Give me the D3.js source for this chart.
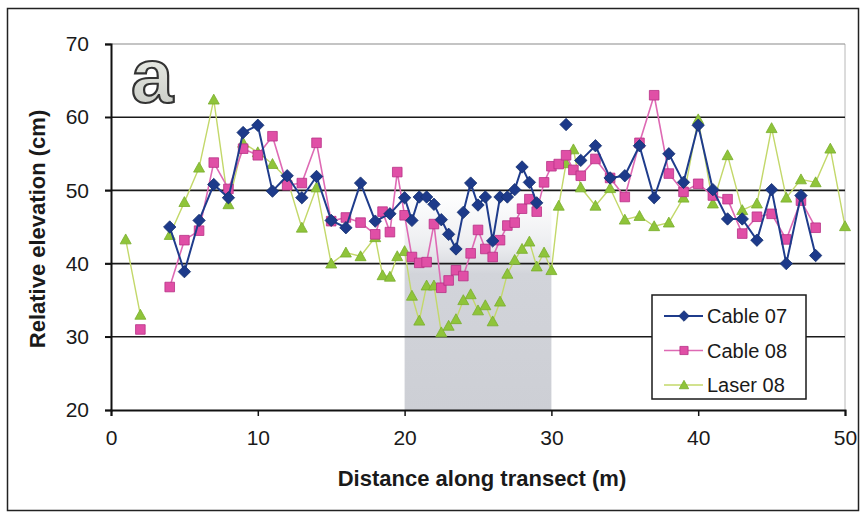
<!DOCTYPE html>
<html>
<head>
<meta charset="utf-8">
<script src="https://cdn.jsdelivr.net/npm/d3@7"></script>
<style>
  html, body { margin: 0; padding: 0; background: #ffffff; }
  svg { display: block; }
  text { font-family: "Liberation Sans", Arial, sans-serif; }
</style>
</head>
<body>
<svg id="chart" width="865" height="514"></svg>
<script>
// Distances (m) and elevations (cm); null marks a gap in a line.
const cable07X = [4,5,6,7,8,9,10,11,12,13,14,15,16,17,18,19,
  20,20.5,21,21.5,22,22.5,23,23.5,24,24.5,25,25.5,26,26.5,27,27.5,28,28.5,29,29.5,
  31,31.5,32,33,34,35,36,37,38,39,40,41,42,43,44,45,46,47,48];
const cable07Y = [45.0,38.9,45.9,50.8,49.0,57.9,58.9,49.9,52.0,49.0,51.9,45.9,44.9,51.0,45.8,46.8,
  49.0,45.9,49.1,49.1,48.1,46.0,44.0,42.0,47.0,51.0,48.0,49.1,43.1,49.1,49.1,50.1,53.2,51.1,48.3,null,
  59.0,null,54.1,56.1,51.7,52.0,56.1,49.0,55.0,51.1,58.9,50.1,46.1,46.1,43.2,50.1,40.0,49.3,41.1];

const cable08X = [2,3,4,5,6,7,8,9,10,11,12,13,14,15,16,17,
  18,18.5,19,19.5,20,20.5,21,21.5,22,22.5,23,23.5,24,24.5,25,25.5,26,26.5,27,27.5,28,28.5,29,29.5,30,30.5,31,31.5,32,
  33,34,35,36,37,38,39,40,41,42,43,44,45,46,47,48];
const cable08Y = [31.0,null,36.8,43.2,44.5,53.8,50.2,55.7,54.8,57.4,50.7,51.0,56.5,45.8,46.3,45.6,
  44.0,47.1,44.3,52.5,46.6,40.9,40.1,40.2,45.4,36.7,37.7,39.1,38.3,41.4,44.6,42.0,40.9,43.2,45.2,45.6,47.5,48.8,47.1,51.1,53.3,53.6,54.8,52.8,52.0,
  54.3,51.7,49.1,56.5,63.0,52.3,49.8,50.9,49.3,48.8,44.1,46.4,46.8,43.3,48.6,44.9];

const laser08X = [1,2,3,4,5,6,7,8,9,10,11,12,13,14,15,16,17,
  18,18.5,19,19.5,20,20.5,21,21.5,22,22.5,23,23.5,24,24.5,25,25.5,26,26.5,27,27.5,28,28.5,29,29.5,30,30.5,31,31.5,32,
  33,34,35,36,37,38,39,40,41,42,43,44,45,46,47,48,49,50];
const laser08Y = [43.3,33.0,null,43.9,48.4,53.1,62.4,48.1,56.5,55.2,53.6,51.6,44.9,50.4,40.0,41.5,41.0,
  43.6,38.4,38.2,41.0,41.7,35.6,32.2,37.0,37.0,30.6,31.5,32.4,35.0,35.8,33.6,34.3,32.1,34.8,38.6,40.5,42.0,43.0,39.6,41.5,39.1,47.9,53.7,55.6,50.4,
  47.9,50.3,46.0,46.5,45.1,45.6,49.0,59.7,48.2,54.8,47.3,48.2,58.5,49.0,51.5,51.1,55.7,45.1];

const seriesNames = ["Cable 07", "Cable 08", "Laser 08"];
const xTicks = [0, 10, 20, 30, 40, 50];
const yTicks = [20, 30, 40, 50, 60, 70];
const shadedSpan = [20, 30];   // highlighted stretch of the transect (m)
const shadedTop = 50;          // upper bound of the highlight (cm)

const svg = d3.select("#chart");
const W = 865, H = 514;
const ink = "#1a1a1a";

// outer frame
svg.append("rect").attr("x", 0).attr("y", 0).attr("width", W).attr("height", H).attr("fill", "#ffffff");
svg.append("rect").attr("x", 7.5).attr("y", 8.5).attr("width", 851).attr("height", 502)
  .attr("fill", "none").attr("stroke", "#222").attr("stroke-width", 1.5);

const x = d3.scaleLinear().domain([0, 50]).range([111, 845]);
const y = d3.scaleLinear().domain([20, 70]).range([410, 44]);

// shaded stretch
const defs = svg.append("defs");
const grad = defs.append("linearGradient").attr("id", "shade").attr("x1", 0).attr("y1", 0).attr("x2", 0).attr("y2", 1);
grad.append("stop").attr("offset", "0%").attr("stop-color", "#e4e6ea").attr("stop-opacity", 0.0);
grad.append("stop").attr("offset", "25%").attr("stop-color", "#dcdee3").attr("stop-opacity", 0.55);
grad.append("stop").attr("offset", "38%").attr("stop-color", "#d2d4da");
grad.append("stop").attr("offset", "100%").attr("stop-color", "#cdcfd5");
svg.append("rect")
  .attr("x", x(shadedSpan[0])).attr("y", y(shadedTop))
  .attr("width", x(shadedSpan[1]) - x(shadedSpan[0]))
  .attr("height", y(20) - y(shadedTop))
  .attr("fill", "url(#shade)");

// right edge of plot area
svg.append("line").attr("x1", x(50)).attr("x2", x(50)).attr("y1", y(70)).attr("y2", y(20))
  .attr("stroke", "#b8b8b8").attr("stroke-width", 1);

// horizontal gridlines
svg.append("g").selectAll("line").data(yTicks.filter(v => v > 20)).join("line")
  .attr("x1", x(0) - 6).attr("x2", x(50))
  .attr("y1", d => y(d)).attr("y2", d => y(d))
  .attr("stroke", d => d === 70 ? "#8a8a8a" : "#1a1a1a")
  .attr("stroke-width", d => d === 70 ? 1.2 : 1.6);

// axes
const yAxis = svg.append("g").attr("transform", `translate(${x(0)},0)`)
  .call(d3.axisLeft(y).tickValues(yTicks).tickSize(6).tickPadding(14));
const xAxis = svg.append("g").attr("transform", `translate(0,${y(20)})`)
  .call(d3.axisBottom(x).tickValues(xTicks).tickSize(6).tickPadding(14));
[yAxis, xAxis].forEach(g => {
  g.select(".domain").attr("stroke", "#111").attr("stroke-width", 2);
  g.selectAll(".tick line").attr("stroke", "#111").attr("stroke-width", 1.5);
  g.selectAll(".tick text").attr("font-size", 21).attr("fill", ink)
    .style("font-family", "'Liberation Sans', Arial, sans-serif");
});
yAxis.selectAll(".tick text").attr("dx", "-2");

// axis titles
svg.append("text").attr("x", 482).attr("y", 486).attr("text-anchor", "middle")
  .attr("font-size", 22).attr("font-weight", "bold").attr("fill", ink).text("Distance along transect (m)");
svg.append("text").attr("transform", "translate(45,229) rotate(-90)").attr("text-anchor", "middle")
  .attr("font-size", 22).attr("font-weight", "bold").attr("fill", ink).text("Relative elevation (cm)");

// panel letter
const lg = defs.append("linearGradient").attr("id", "letter").attr("x1", 0).attr("y1", 0).attr("x2", 0).attr("y2", 1);
lg.append("stop").attr("offset", "0%").attr("stop-color", "#f4f6f0");
lg.append("stop").attr("offset", "100%").attr("stop-color", "#c4c7c1");
svg.append("text").attr("x", 131).attr("y", 102).attr("font-size", 76).attr("font-weight", "bold")
  .attr("fill", "url(#letter)").attr("stroke", "#333").attr("stroke-width", 2.2)
  .text("a");

// series
const styles = [
  { name: seriesNames[0], xs: cable07X, ys: cable07Y, line: "#1f3c8c", lw: 2, marker: "diamond", fill: "#1d3a8a", stroke: "#14306f", size: 6.2 },
  { name: seriesNames[1], xs: cable08X, ys: cable08Y, line: "#de6ab4", lw: 1.6, marker: "square", fill: "#e04fa6", stroke: "#b83187", size: 4.8 },
  { name: seriesNames[2], xs: laser08X, ys: laser08Y, line: "#c3d86a", lw: 1.4, marker: "triangle", fill: "#8fc43a", stroke: "#78ad2c", size: 5.5 }
];

function markerPath(kind, s) {
  if (kind === "diamond") return `M0,${-s}L${s},0L0,${s}L${-s},0Z`;
  if (kind === "square") return `M${-s},${-s}H${s}V${s}H${-s}Z`;
  return `M0,${-s}L${s},${s * 0.8}L${-s},${s * 0.8}Z`;
}

const line = d3.line().defined(d => d[1] !== null).x(d => x(d[0])).y(d => y(d[1]));

// lowest layer first: laser, then cable 08, then cable 07
[2, 1, 0].forEach(i => {
  const s = styles[i];
  const pts = s.xs.map((d, k) => [d, s.ys[k]]);
  svg.append("path").datum(pts).attr("d", line)
    .attr("fill", "none").attr("stroke", s.line).attr("stroke-width", s.lw).attr("stroke-linejoin", "round");
  svg.append("g").selectAll("path").data(pts.filter(d => d[1] !== null)).join("path")
    .attr("transform", d => `translate(${x(d[0])},${y(d[1])})`)
    .attr("d", markerPath(s.marker, s.size))
    .attr("fill", s.fill).attr("stroke", s.stroke).attr("stroke-width", 0.8);
});

// legend
const leg = svg.append("g");
leg.append("rect").attr("x", 652).attr("y", 295).attr("width", 154).attr("height", 104)
  .attr("fill", "#ffffff").attr("stroke", "#1a1a1a").attr("stroke-width", 1.5);
styles.forEach((s, i) => {
  const ly = 316 + i * 34.5;
  leg.append("line").attr("x1", 664).attr("x2", 703).attr("y1", ly).attr("y2", ly)
    .attr("stroke", s.line).attr("stroke-width", s.lw);
  leg.append("path").attr("transform", `translate(684,${ly})`).attr("d", markerPath(s.marker, s.size * 0.85))
    .attr("fill", s.fill).attr("stroke", s.stroke).attr("stroke-width", 0.8);
  leg.append("text").attr("x", 707).attr("y", ly + 7).attr("font-size", 20).attr("fill", ink).text(s.name);
});
</script>
</body>
</html>
